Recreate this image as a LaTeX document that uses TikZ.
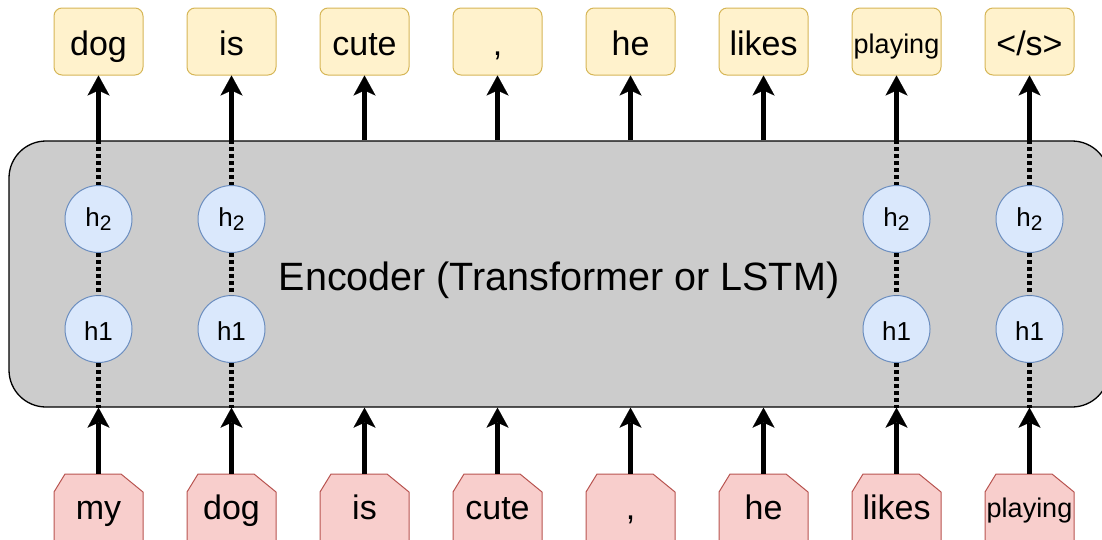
\documentclass[tikz,border=0pt]{standalone}
\usepackage{fontspec}
\setmainfont{Liberation Sans}
\usetikzlibrary{arrows.meta}
\definecolor{tokfill}{HTML}{FFF2CC}
\definecolor{tokline}{HTML}{D6B656}
\definecolor{infill}{HTML}{F8CECC}
\definecolor{inline}{HTML}{B85450}
\definecolor{hidfill}{HTML}{DAE8FC}
\definecolor{hidline}{HTML}{6C8EBF}
\definecolor{encfill}{HTML}{CCCCCC}
\newcommand{\sizept}[1]{\fontsize{#1}{#1}\selectfont}
\tikzset{
  outtok/.style={draw=tokline, fill=tokfill, line width=1pt, rounded corners=8pt,
    minimum width=89pt, minimum height=67pt, inner sep=0pt,
    font=\sizept{34}, text height=27pt, text depth=0pt},
  outsmall/.style={font=\sizept{27}, text height=23pt},
  intok/.style={minimum width=89pt, minimum height=68pt, inner sep=0pt,
    font=\sizept{34}, text height=22pt, text depth=0pt},
  insmall/.style={font=\sizept{27}, text height=18pt},
  inshape/.style={draw=inline, fill=infill, line width=1pt},
  hid/.style={circle, draw=hidline, fill=hidfill, line width=1pt,
    minimum size=67pt, inner sep=0pt, font=\sizept{26}, text depth=0pt},
  encbox/.style={draw=black, fill=encfill, line width=1.3pt, rounded corners=37pt,
    minimum width=1100pt, minimum height=266pt, inner sep=0pt,
    font=\sizept{39.5}, text height=32pt, text depth=0pt},
  flow/.style={line width=4.5pt, -{Stealth[length=20pt,width=22pt,inset=5pt,line width=0.1pt]}},
  hidden link/.style={line width=4.5pt, dash pattern=on 4pt off 3pt},
}
\begin{document}
\begin{tikzpicture}[x=1pt, y=-1pt]
\useasboundingbox (0,0) rectangle (1102,539);
\clip (0,0) rectangle (1102,539);

% encoder block
\node[encbox] (enc) at (559,274) {Encoder (Transformer or LSTM)};

% hidden states of the four visible columns
\node[hid, text height=15.4pt] (ha0) at (98.5,219) {h\raisebox{-4pt}{\sizept{21}2}};
\node[hid, text height=22pt] (hb0) at (98.5,329) {h1};
\node[hid, text height=15.4pt] (ha1) at (231.5,219) {h\raisebox{-4pt}{\sizept{21}2}};
\node[hid, text height=22pt] (hb1) at (231.5,329) {h1};
\node[hid, text height=15.4pt] (ha6) at (896.5,219) {h\raisebox{-4pt}{\sizept{21}2}};
\node[hid, text height=22pt] (hb6) at (896.5,329) {h1};
\node[hid, text height=15.4pt] (ha7) at (1029.5,219) {h\raisebox{-4pt}{\sizept{21}2}};
\node[hid, text height=22pt] (hb7) at (1029.5,329) {h1};

\foreach \i in {0,1,6,7}{
  \draw[hidden link] (enc.north -| ha\i) -- (ha\i.north);
  \draw[hidden link] (ha\i.south) -- (hb\i.north);
  \draw[hidden link] (hb\i.south) -- (enc.south -| hb\i);
}

% output tokens
\node[outtok] (o0) at (98.5,41.5) {dog};
\node[outtok] (o1) at (231.5,41.5) {is};
\node[outtok] (o2) at (364.5,41.5) {cute};
\node[outtok] (o3) at (497.5,41.5) {,};
\node[outtok] (o4) at (630.5,41.5) {he};
\node[outtok] (o5) at (763.5,41.5) {likes};
\node[outtok, outsmall] (o6) at (896.5,41.5) {playing};
\node[outtok] (o7) at (1029.5,41.5) {</s>};

% input token shapes (chamfered top corners)
\foreach \x in {98.5,231.5,364.5,497.5,630.5,763.5,896.5,1029.5}{
  \draw[inshape] (\x-44.5,560) -- (\x-44.5,492) -- (\x-33.5,474)
    -- (\x+22.5,474) -- (\x+44.5,492) -- (\x+44.5,560);
}
\node[intok] (i0) at (98.5,508) {my};
\node[intok] (i1) at (231.5,508) {dog};
\node[intok] (i2) at (364.5,508) {is};
\node[intok] (i3) at (497.5,508) {cute};
\node[intok] (i4) at (630.5,508) {,};
\node[intok] (i5) at (763.5,508) {he};
\node[intok] (i6) at (896.5,508) {likes};
\node[intok, insmall] (i7) at (1029.5,508) {playing};

% arrows into and out of the encoder
\foreach \i in {0,...,7}{
  \draw[flow] (enc.north -| o\i) -- (o\i.south);
  \draw[flow] (i\i.north) -- (enc.south -| i\i);
}
\end{tikzpicture}
\end{document}
